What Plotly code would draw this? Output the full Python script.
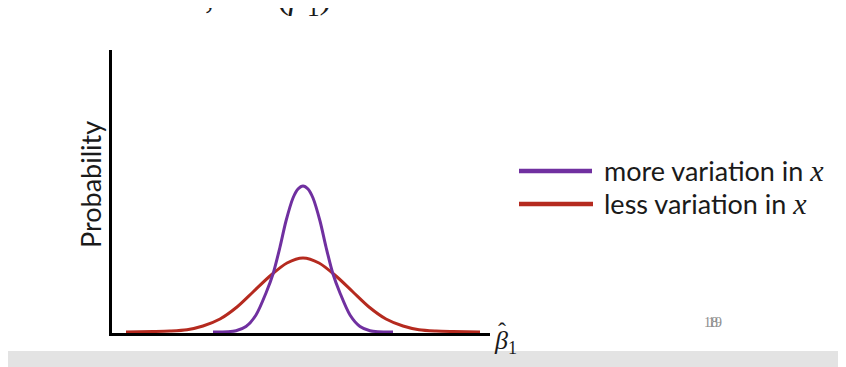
import plotly.graph_objects as go

# ---- data ----
purple_x = [-9.0, -7.5, -6.7, -5.7, -4.7, -3.7, -3.0, -2.3, -1.7, -1.0, -0.5, 0.0,
            0.5, 1.0, 1.7, 2.3, 3.0, 3.7, 4.7, 5.7, 6.7, 7.5, 9.0]
purple_y = [0, 0.3, 1.3, 5.5, 17, 39, 58, 85, 111, 134, 143, 146,
            143, 134, 111, 85, 58, 39, 17, 5.5, 1.3, 0.3, 0]

red_x = [-17.7, -15.0, -13.3, -11.6, -10.0, -8.3, -6.6, -5.0, -3.3, -1.6, 0.0,
         1.6, 3.3, 5.0, 6.6, 8.3, 10.0, 11.6, 13.3, 15.0, 17.7]
red_y = [0, 0.5, 1.0, 2.3, 6, 13, 25, 40, 56, 69, 74,
         69, 56, 40, 25, 13, 6, 2.3, 1.0, 0.5, 0]

series_names = ["more variation in x", "less variation in x"]
PURPLE = "#7030A0"
RED = "#B52A1F"

# page body has an 8px margin; shift everything so it lands where the slide has it
OFF = 8
W, H = 846, 367
L, R, T, B = 112 - OFF, 846 - 490 + OFF, 50 - OFF, 367 - 333 + OFF
pw, ph = W - L - R, H - T - B


def px(xp):
    return (xp - OFF - L) / pw


def py(yp):
    return (H - B - (yp - OFF)) / ph


fig = go.Figure()
fig.add_trace(go.Scatter(x=red_x, y=red_y, mode="lines", name=series_names[1],
                         line=dict(color=RED, width=3, shape="spline", smoothing=0.8),
                         showlegend=False, hoverinfo="skip"))
fig.add_trace(go.Scatter(x=purple_x, y=purple_y, mode="lines", name=series_names[0],
                         line=dict(color=PURPLE, width=3, shape="spline", smoothing=0.8),
                         showlegend=False, hoverinfo="skip"))

fig.update_xaxes(range=[-19.1, 18.7], showline=True, linecolor="black", linewidth=3,
                 showgrid=False, zeroline=False, showticklabels=False, ticks="")
fig.update_yaxes(range=[-1, 282], showline=True, linecolor="black", linewidth=3,
                 showgrid=False, zeroline=False, showticklabels=False, ticks="")

shapes = [
    # grey strip at bottom of slide
    dict(type="rect", xref="paper", yref="paper", x0=px(-10), x1=px(W + 20),
         y0=py(351), y1=py(H + 20), fillcolor="#E3E3E3", line=dict(width=0), layer="below"),
    # legend lines
    dict(type="line", xref="paper", yref="paper", x0=px(519), x1=px(592),
         y0=py(171), y1=py(171), line=dict(color=PURPLE, width=4.5)),
    dict(type="line", xref="paper", yref="paper", x0=px(519), x1=px(593),
         y0=py(204), y1=py(204), line=dict(color=RED, width=4.5)),
]

SANS = "Lato"
SERIF = "Liberation Serif"
TXT = "#1a1a1a"
XSPAN = "<span style='font-family:Liberation Serif;font-size:30px'><i>x</i></span>"
annotations = [
    dict(text="Probability", textangle=-90, xref="paper", yref="paper",
         x=px(91), y=py(185), xanchor="center", yanchor="middle", showarrow=False,
         font=dict(family=SANS, size=27, color=TXT)),
    dict(text="more variation in " + XSPAN,
         xref="paper", yref="paper", x=px(602), y=py(170), xanchor="left", yanchor="middle",
         showarrow=False, font=dict(family=SANS, size=27, color=TXT)),
    dict(text="less variation in " + XSPAN,
         xref="paper", yref="paper", x=px(602), y=py(203), xanchor="left", yanchor="middle",
         showarrow=False, font=dict(family=SANS, size=27, color=TXT)),
    # beta-hat sub 1 at the end of the x axis
    dict(text="<i>β</i><sub>1</sub>", xref="paper", yref="paper",
         x=px(492), y=py(342), xanchor="left", yanchor="middle", showarrow=False,
         font=dict(family=SERIF, size=26, color=TXT)),
    dict(text="ˆ", xref="paper", yref="paper",
         x=px(502), y=py(331), xanchor="center", yanchor="middle", showarrow=False,
         font=dict(family=SERIF, size=24, color=TXT)),
    # overlapping page numbers
    dict(text="18", xref="paper", yref="paper", x=px(702), y=py(322), xanchor="left",
         yanchor="middle", showarrow=False, font=dict(family=SERIF, size=14, color="#8c8c8c")),
    dict(text="19", xref="paper", yref="paper", x=px(706), y=py(322), xanchor="left",
         yanchor="middle", showarrow=False, font=dict(family=SERIF, size=14, color="#8c8c8c")),
    # bottom of a cut-off equation line at the top of the slide (only descenders show)
    dict(text=",\u00a0\u00a0\u00a0\u00a0\u00a0\u00a0\u00a0(<i>β</i><sub>1</sub>)",
         xref="paper", yref="paper",
         x=px(334), y=py(23), xanchor="right", yanchor="bottom", showarrow=False,
         font=dict(family=SERIF, size=36, color=TXT)),
]

fig.update_layout(width=W, height=H, margin=dict(l=L, r=R, t=T, b=B),
                  paper_bgcolor="white", plot_bgcolor="white",
                  shapes=shapes, annotations=annotations, showlegend=False)

fig.write_html("out.html")
